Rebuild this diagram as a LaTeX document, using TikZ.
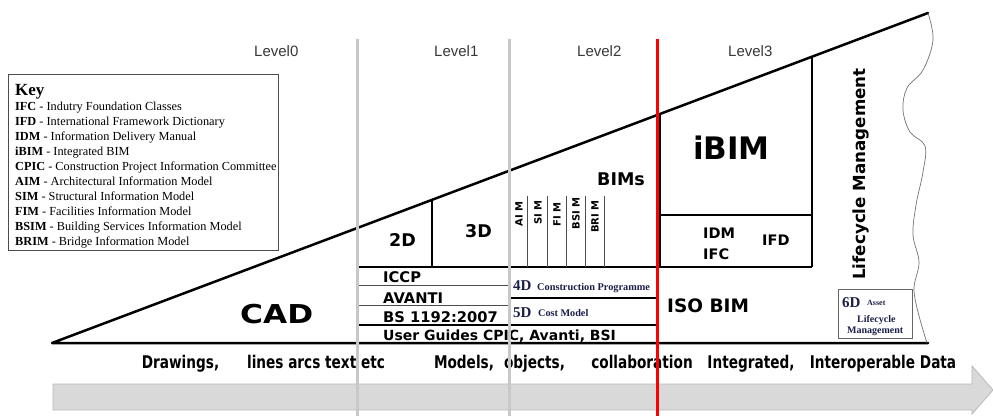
\documentclass[tikz,border=0pt]{standalone}
\usepackage{fontspec}
\setmainfont{Liberation Serif}
\newfontfamily\arialf{Liberation Sans}
\newfontfamily\djs{DejaVu Sans}
\newcommand\fsz[1]{\fontsize{#1}{#1}\selectfont}
\definecolor{navyink}{RGB}{28,32,72}
\definecolor{levelgray}{RGB}{200,200,200}
\definecolor{arrowfill}{RGB}{217,217,217}
\definecolor{arrowedge}{RGB}{185,185,185}
\begin{document}
\begin{tikzpicture}[x=1pt,y=-1pt,
  txt/.style={inner sep=0pt, anchor=base west},
  sansb/.style={txt, font=\djs\bfseries\fsz{#1}},
  serifb/.style={txt, font=\bfseries\fsz{#1}, text=navyink},
  keytxt/.style={txt, font=\fsz{12.3}},
  leveltxt/.style={txt, font=\arialf\fsz{15}, text=black!78},
  bandtxt/.style={inner sep=0pt, anchor=base, font=\djs\bfseries\fsz{17.5}},
  vlab/.style={inner sep=0pt, anchor=east, rotate=90, font=\djs\bfseries\fsz{10}},
  boxline/.style={line width=2pt, draw=black},
  hair/.style={line width=0.9pt, draw=black!70},
  levelline/.style={line width=3pt, draw=levelgray},
]
\useasboundingbox (0,0) rectangle (993,417);
\fill[white] (0,0) rectangle (993,417);

% progress arrow along the bottom
\draw[fill=arrowfill, draw=arrowedge, line width=0.8pt]
  (53,384) -- (972,384) -- (972,366) -- (993,390) -- (972,414) -- (972,410) -- (53,410) -- cycle;

% key
\draw[draw=black!70, line width=1pt] (8,75) rectangle (278,250);
\node[txt, font=\bfseries\fsz{17}] (key) at (15,96) {Key};
\node[keytxt] (k1) at (15,111) {\textbf{IFC} - Indutry Foundation Classes};
\node[keytxt] (k2) at (15,126) {\textbf{IFD} - International Framework Dictionary};
\node[keytxt] (k3) at (15,141) {\textbf{IDM} - Information Delivery Manual};
\node[keytxt] (k4) at (15,156) {\textbf{iBIM} - Integrated BIM};
\node[keytxt] (k5) at (15,171) {\textbf{CPIC} - Construction Project Information Committee};
\node[keytxt] (k6) at (15,185.5) {\textbf{AIM} - Architectural Information Model};
\node[keytxt] (k7) at (15,200.5) {\textbf{SIM} - Structural Information Model};
\node[keytxt] (k8) at (15,215.5) {\textbf{FIM} - Facilities Information Model};
\node[keytxt] (k9) at (15,230.5) {\textbf{BSIM} - Building Services Information Model};
\node[keytxt] (k10) at (15,245) {\textbf{BRIM} - Bridge Information Model};

% the wedge
\coordinate (toe) at (52,343);
\coordinate (apex) at (928,13);
\coordinate (heel) at (928,343);
\draw[line width=2.5pt, line join=round, line cap=round] (heel) -- (toe) -- (apex);
\draw[draw=black!55, line width=0.7pt] plot[smooth, tension=0.6] coordinates {
  (928,13) (933,40) (923,70) (907,88) (903,110) (910,132) (925,146) (923,172)
  (916,205) (913,235) (919,262) (914,288) (918,312) (927,343)};

% compartments
\draw[boxline] (432,199.9) -- (432,267);
\draw[boxline] (660,114) -- (660,267);
\draw[boxline] (812,56.7) -- (812,267);
\draw[boxline] (658,215) -- (812,215);
\draw[boxline] (357,267) -- (812,267);
\draw[hair] (357,285) -- (509,285);
\draw[hair] (357,305) -- (509,305);
\draw[boxline] (509,298) -- (658,298);
\draw[boxline] (357,325) -- (658,325);
\foreach \cx in {527,547,566,585,604} \draw[hair] (\cx,196) -- (\cx,267);

% asset box
\draw[draw=black!60, line width=0.8pt, fill=white] (838,289) rectangle (912,338);

% texts inside the wedge
\node[sansb=26] (cad) at (240,323) {\scalebox{1.2}[1]{CAD}};
\node[sansb=17.5] (d2) at (389,246) {2D};
\node[sansb=17.5] (d3) at (465,237) {3D};
\node[sansb=17.5] (bims) at (597,185) {BIMs};
\node[sansb=31] (ibim) at (693,160) {iBIM};
\node[sansb=14.5] (idm) at (703,238) {IDM};
\node[sansb=14.5] (ifc) at (703,259) {IFC};
\node[sansb=14.5] (ifd) at (762,245) {IFD};
\node[sansb=18.5] (iso) at (667,312) {ISO BIM};
\node[sansb=14.7] (iccp) at (383,282) {ICCP};
\node[sansb=14.7] (avanti) at (383,303) {AVANTI};
\node[sansb=14.7] (bs) at (383,322) {BS 1192:2007};
\node[sansb=14] (guides) at (383,340) {User Guides CPIC, Avanti, BSI};
\node[serifb=15] (d4) at (513,290) {4D};
\node[serifb=10.3] (d4t) at (537,290) {Construction Programme};
\node[serifb=15] (d5) at (513,317) {5D};
\node[serifb=10.2] (d5t) at (538,316) {Cost Model};
\node[serifb=15] (d6) at (842,307) {6D};
\node[serifb=8] (d6a) at (867,305) {Asset};
\node[serifb=10] (d6b) at (857,322) {Lifecycle};
\node[serifb=10] (d6c) at (847,333) {Management};
\node[vlab] (aim) at (519,201) {AI M};
\node[vlab] (sim) at (538,200) {SI M};
\node[vlab] (fim) at (557,202) {FI M};
\node[vlab] (bsim) at (576,197) {BSI M};
\node[vlab] (brim) at (595,200) {BRI M};
\node[inner sep=0pt, rotate=90, font=\djs\bfseries\fsz{16.7}] (life) at (861,174) {Lifecycle Management};

% level headings
\node[leveltxt] (l0) at (254,57) {Level0};
\node[leveltxt] (l1) at (434,57) {Level1};
\node[leveltxt] (l2) at (577,57) {Level2};
\node[leveltxt] (l3) at (728,57) {Level3};

% captions above the arrow
\node[bandtxt] (c1) at (180.5,368) {\scalebox{0.78}[1]{Drawings,}};
\node[bandtxt] (c2) at (316,368) {\scalebox{0.78}[1]{lines arcs text etc}};
\node[bandtxt] (c3) at (464,368) {\scalebox{0.78}[1]{Models,}};
\node[bandtxt] (c4) at (534.5,368) {\scalebox{0.78}[1]{objects,}};
\node[bandtxt] (c5) at (642,368) {\scalebox{0.78}[1]{collaboration}};
\node[bandtxt] (c6) at (751,368) {\scalebox{0.78}[1]{Integrated,}};
\node[bandtxt] (c7) at (883,368) {\scalebox{0.78}[1]{Interoperable Data}};

% level dividers
\coordinate (v0t) at (357,39); \coordinate (v0b) at (357,416);
\coordinate (v1t) at (509,39); \coordinate (v1b) at (509,416);
\coordinate (v2t) at (657.5,39); \coordinate (v2b) at (657.5,416);
\draw[levelline] (v0t) -- (v0b);
\draw[levelline] (v1t) -- (v1b);
\draw[line width=2.5pt, draw=red] (v2t) -- (v2b);
\end{tikzpicture}
\end{document}
